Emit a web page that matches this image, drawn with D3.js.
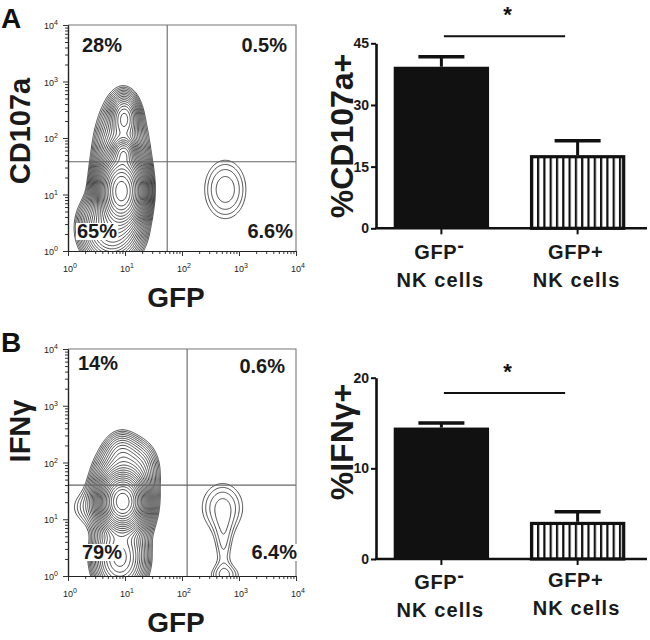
<!DOCTYPE html>
<html>
<head>
<meta charset="utf-8">
<script src="https://cdn.jsdelivr.net/npm/d3@7"></script>
<style>
  body { margin: 0; background: #fff; }
  svg { font-family: "Liberation Sans", Arial, Helvetica, sans-serif; }
</style>
</head>
<body>
<svg id="fig" width="650" height="640"></svg>
<script>
// ---------- data ----------
const categories = ["GFP-", "GFP+"];
const cd107aMeans = [39.3, 17.8];
const cd107aSem = [2.4, 3.5];
const ifngMeans = [14.5, 4.1];
const ifngSem = [0.5, 1.1];
const cd107aTicks = [0, 15, 30, 45];
const ifngTicks = [0, 10, 20];
const decadeTicks = [1, 10, 100, 1000, 10000];
const cd107aQuadrants = ["28%", "0.5%", "65%", "6.6%"]; // UL, UR, LL, LR
const ifngQuadrants = ["14%", "0.6%", "79%", "6.4%"];
const cd107aGate = [55, 38];   // GFP cut, CD107a cut
const ifngGate = [123, 40];    // GFP cut, IFNg cut
// cell populations: [log GFP, log marker, sd x, sd y, peak height]
const cd107aPops = [
  [0.93, 1.05, 0.17, 0.28, 300],
  [0.97, 1.72, 0.1, 0.13, 60],
  [0.98, 2.35, 0.12, 0.2, 20],
  [0.92, 1.5, 0.22, 0.55, 18],
  [0.75, 0.4, 0.25, 0.3, 30],
  [2.75, 1.08, 0.28, 0.4, 2.3]
];
const ifngPops = [
  [0.95, 1.3, 0.17, 0.22, 300],
  [0.95, 1.4, 0.25, 0.42, 25],
  [1.25, 1.9, 0.18, 0.25, 4],
  [0.93, 2.15, 0.15, 0.2, 4],
  [0.35, 1.2, 0.25, 0.22, 1.5],
  [0.9, 0.3, 0.22, 0.3, 25],
  [2.7, 1.2, 0.3, 0.35, 2.0],
  [2.72, 0.5, 0.12, 0.4, 1.35],
  [2.75, 0.0, 0.22, 0.14, 1.6]
];
const contourRatio = 1.25;
const contourCount = 34;

const svg = d3.select("#fig");
const defs = svg.append("defs");

// stripes for the GFP+ bars
defs.append("pattern")
  .attr("id", "stripes")
  .attr("patternUnits", "userSpaceOnUse")
  .attr("width", 6.3).attr("height", 10)
  .attr("x", 1.5)
  .call(p => {
    p.append("rect").attr("width", 6.3).attr("height", 10).attr("fill", "#fff");
    p.append("rect").attr("width", 2.2).attr("height", 10).attr("fill", "#111");
  });

function supLabel(sel, base, exp) {
  sel.append("tspan").text(base);
  sel.append("tspan").attr("dy", -4).attr("font-size", 7).text(exp);
}

function drawFlow(cfg) {
  const g = svg.append("g");
  const x = d3.scaleLog().domain([1, 1e4]).range([cfg.x0, cfg.x1]);
  const y = d3.scaleLog().domain([1, 1e4]).range([cfg.yBot, cfg.yTop]);

  // density grid in log units, a bit larger than the plot, clipped afterwards
  const lx0 = -0.3, ly0 = -0.4, span = 4.5, n = 240;
  const step = span / n;
  const values = new Float64Array(n * n);
  for (let j = 0; j < n; j++) {
    const ly = ly0 + j * step;
    for (let i = 0; i < n; i++) {
      const lx = lx0 + i * step;
      let v = 0;
      for (const [cx, cy, sx, sy, h] of cfg.pops) {
        const dx = (lx - cx) / sx, dy = (ly - cy) / sy;
        v += h * Math.exp(-0.5 * (dx * dx + dy * dy));
      }
      values[j * n + i] = v;
    }
  }
  const thresholds = d3.range(contourCount).map(k => Math.pow(contourRatio, k));
  const contours = d3.contours().size([n, n]).thresholds(thresholds)(values);
  const proj = d3.geoTransform({
    point: function (gx, gy) {
      this.stream.point(x(Math.pow(10, lx0 + gx * step)), y(Math.pow(10, ly0 + gy * step)));
    }
  });
  const clipId = "clip" + cfg.id;
  defs.append("clipPath").attr("id", clipId)
    .append("rect")
    .attr("x", cfg.x0).attr("y", cfg.yTop)
    .attr("width", cfg.x1 - cfg.x0).attr("height", cfg.yBot - cfg.yTop);
  g.append("g").attr("clip-path", `url(#${clipId})`)
    .selectAll("path").data(contours).join("path")
    .attr("d", d3.geoPath(proj))
    .attr("fill", "none")
    .attr("stroke", "#111")
    .attr("stroke-width", 0.75);

  // gates
  g.append("line")
    .attr("x1", x(cfg.gate[0])).attr("x2", x(cfg.gate[0]))
    .attr("y1", cfg.yTop).attr("y2", cfg.yBot)
    .attr("stroke", "#666").attr("stroke-width", 1.1);
  g.append("line")
    .attr("x1", cfg.x0).attr("x2", cfg.x1)
    .attr("y1", y(cfg.gate[1])).attr("y2", y(cfg.gate[1]))
    .attr("stroke", "#666").attr("stroke-width", 1.1);

  // frame top/right
  g.append("path")
    .attr("d", `M${cfg.x0},${cfg.yTop}H${cfg.x1}V${cfg.yBot}`)
    .attr("fill", "none").attr("stroke", "#777").attr("stroke-width", 1.1);

  // axes
  const minor = [];
  decadeTicks.slice(0, 4).forEach(d => { for (let m = 2; m < 10; m++) minor.push(d * m); });
  const styleAxis = a => {
    a.selectAll("path.domain").attr("stroke", "#222").attr("stroke-width", 1.2);
    a.selectAll(".tick line").attr("stroke", "#333");
    a.selectAll(".tick text").remove();
  };
  g.append("g").attr("transform", `translate(0,${cfg.yBot})`)
    .call(d3.axisBottom(x).tickValues(minor).tickSize(3).tickSizeOuter(0)).call(styleAxis);
  g.append("g").attr("transform", `translate(0,${cfg.yBot})`)
    .call(d3.axisBottom(x).tickValues(decadeTicks).tickSize(5).tickSizeOuter(0)).call(styleAxis);
  g.append("g").attr("transform", `translate(${cfg.x0},0)`)
    .call(d3.axisLeft(y).tickValues(minor).tickSize(3).tickSizeOuter(0)).call(styleAxis);
  g.append("g").attr("transform", `translate(${cfg.x0},0)`)
    .call(d3.axisLeft(y).tickValues(decadeTicks).tickSize(5).tickSizeOuter(0)).call(styleAxis);

  decadeTicks.forEach((v, i) => {
    g.append("text")
      .attr("x", x(v) + 2).attr("y", cfg.yBot + 21)
      .attr("text-anchor", "middle").attr("font-size", 9).attr("fill", "#222")
      .call(supLabel, "10", i);
    g.append("text")
      .attr("x", cfg.x0 - 10).attr("y", y(v) + 4)
      .attr("text-anchor", "end").attr("font-size", 9).attr("fill", "#222")
      .call(supLabel, "10", i);
  });

  // quadrant percentages
  cfg.quads.forEach((q, i) => {
    const o = cfg.quadPos[i];
    const t = g.append("text")
      .attr("x", o[0]).attr("y", o[1])
      .attr("text-anchor", o[2])
      .attr("font-size", 20).attr("font-weight", "bold").attr("fill", "#1a1a1a")
      .text(q);
    if (i >= 2) {
      const b = t.node().getBBox();
      g.insert("rect", "text").attr("x", b.x - 1).attr("y", b.y + 3)
        .attr("width", b.width + 2).attr("height", b.height - 5).attr("fill", "#fff");
    }
  });

  // axis titles and panel letter
  g.append("text")
    .attr("x", (cfg.x0 + cfg.x1) / 2 - 6).attr("y", cfg.yBot + 56)
    .attr("text-anchor", "middle").attr("font-size", 28).attr("font-weight", "bold")
    .attr("fill", "#1a1a1a").text("GFP");
  g.append("text")
    .attr("transform", `translate(30,${cfg.labelY}) rotate(-90)`)
    .attr("text-anchor", "middle").attr("font-size", 29).attr("font-weight", "bold")
    .attr("fill", "#1a1a1a").text(cfg.yLabel);
  g.append("text")
    .attr("x", 1).attr("y", cfg.yTop + 3)
    .attr("font-size", 28).attr("font-weight", "bold").attr("fill", "#111")
    .text(cfg.letter);
}

function drawBars(cfg) {
  const g = svg.append("g");
  const x = d3.scaleBand().domain(categories).range([376, 643])
    .paddingInner(0.3).paddingOuter(0.13);
  const y = d3.scaleLinear().domain([0, cfg.max]).range([cfg.yBot, cfg.yTop]);
  const bw = x.bandwidth();

  // bars
  g.append("rect")
    .attr("x", x(categories[0])).attr("y", y(cfg.means[0]))
    .attr("width", bw).attr("height", y(0) - y(cfg.means[0]))
    .attr("fill", "#111");
  g.append("rect")
    .attr("x", x(categories[1]) + 1.6).attr("y", y(cfg.means[1]) + 1.6)
    .attr("width", bw - 3.2).attr("height", y(0) - y(cfg.means[1]) - 1.6)
    .attr("fill", "url(#stripes)").attr("stroke", "#111").attr("stroke-width", 3.2);

  // error bars (upper)
  categories.forEach((c, i) => {
    const cx = x(c) + bw / 2;
    const top = y(cfg.means[i] + cfg.sem[i]);
    g.append("line").attr("x1", cx).attr("x2", cx)
      .attr("y1", y(cfg.means[i])).attr("y2", top)
      .attr("stroke", "#111").attr("stroke-width", 3);
    g.append("line").attr("x1", cx - 23).attr("x2", cx + 23)
      .attr("y1", top).attr("y2", top)
      .attr("stroke", "#111").attr("stroke-width", 3.5);
  });

  // y axis
  const ya = g.append("g").attr("transform", "translate(376,0)")
    .call(d3.axisLeft(y).tickValues(cfg.ticks).tickSize(5).tickSizeOuter(0).tickPadding(2));
  ya.select("path.domain").attr("stroke", "#111").attr("stroke-width", 2.6);
  ya.selectAll(".tick line").attr("stroke", "#111").attr("stroke-width", 2);
  ya.selectAll(".tick text")
    .attr("font-size", 14).attr("font-weight", "bold").attr("fill", "#1a1a1a")
    .attr("font-family", "Liberation Sans, Arial, sans-serif");

  // x axis
  g.append("line").attr("x1", 375).attr("x2", 647)
    .attr("y1", y(0)).attr("y2", y(0))
    .attr("stroke", "#111").attr("stroke-width", 2.6);
  categories.forEach((c, i) => {
    const cx = x(c) + bw / 2;
    g.append("line").attr("x1", cx).attr("x2", cx)
      .attr("y1", y(0)).attr("y2", y(0) + 6)
      .attr("stroke", "#111").attr("stroke-width", 2);
    const t = g.append("text")
      .attr("x", cx - 2).attr("y", cfg.labelY[i])
      .attr("text-anchor", "middle").attr("font-size", 20).attr("font-weight", "bold")
      .attr("letter-spacing", 0.6).attr("fill", "#1a1a1a");
    if (c.endsWith("-")) {
      t.append("tspan").text(c.slice(0, -1));
      t.append("tspan").attr("dy", -7).text("-");
    } else {
      t.text(c);
    }
    g.append("text")
      .attr("x", cx - 1).attr("y", cfg.labelY[i] + 28)
      .attr("text-anchor", "middle").attr("font-size", 20).attr("font-weight", "bold")
      .attr("letter-spacing", 1.1).attr("fill", "#1a1a1a").text("NK cells");
  });

  // significance bracket
  const bx1 = x(categories[0]) + bw / 2 + 2.5;
  const bx2 = x(categories[1]) + bw / 2 - 12.5;
  const by = y(cfg.sigLevel);
  g.append("line").attr("x1", bx1).attr("x2", bx2)
    .attr("y1", by).attr("y2", by)
    .attr("stroke", "#111").attr("stroke-width", 2);
  g.append("text")
    .attr("x", (bx1 + bx2) / 2 + 3).attr("y", by - 14)
    .attr("text-anchor", "middle").attr("font-size", 22).attr("font-weight", "bold")
    .attr("fill", "#111").text("*");

  // y title
  g.append("text")
    .attr("transform", `translate(353,${cfg.titleY}) rotate(-90)`)
    .attr("text-anchor", "middle").attr("font-size", 32).attr("font-weight", "bold")
    .attr("fill", "#1a1a1a").text(cfg.title);
}

drawFlow({
  id: "a", x0: 68, x1: 296, yTop: 25, yBot: 251,
  pops: cd107aPops, gate: cd107aGate, quads: cd107aQuadrants,
  quadPos: [[82, 52, "start"], [287, 52, "end"], [77, 238, "start"], [293, 238, "end"]],
  yLabel: "CD107a", labelY: 131, letter: "A"
});
drawFlow({
  id: "b", x0: 68, x1: 296, yTop: 349, yBot: 576,
  pops: ifngPops, gate: ifngGate, quads: ifngQuadrants,
  quadPos: [[78, 370, "start"], [285, 373, "end"], [82, 559, "start"], [297, 559, "end"]],
  yLabel: "IFNγ", labelY: 431, letter: "B"
});
drawBars({
  means: cd107aMeans, sem: cd107aSem, ticks: cd107aTicks, max: 45,
  yTop: 43.3, yBot: 228.3, sigLevel: 46.7, labelY: [259, 259],
  title: "%CD107a+", titleY: 136
});
drawBars({
  means: ifngMeans, sem: ifngSem, ticks: ifngTicks, max: 20,
  yTop: 377.7, yBot: 559, sigLevel: 18.3, labelY: [589, 587],
  title: "%IFNγ+", titleY: 442
});
</script>
</body>
</html>
